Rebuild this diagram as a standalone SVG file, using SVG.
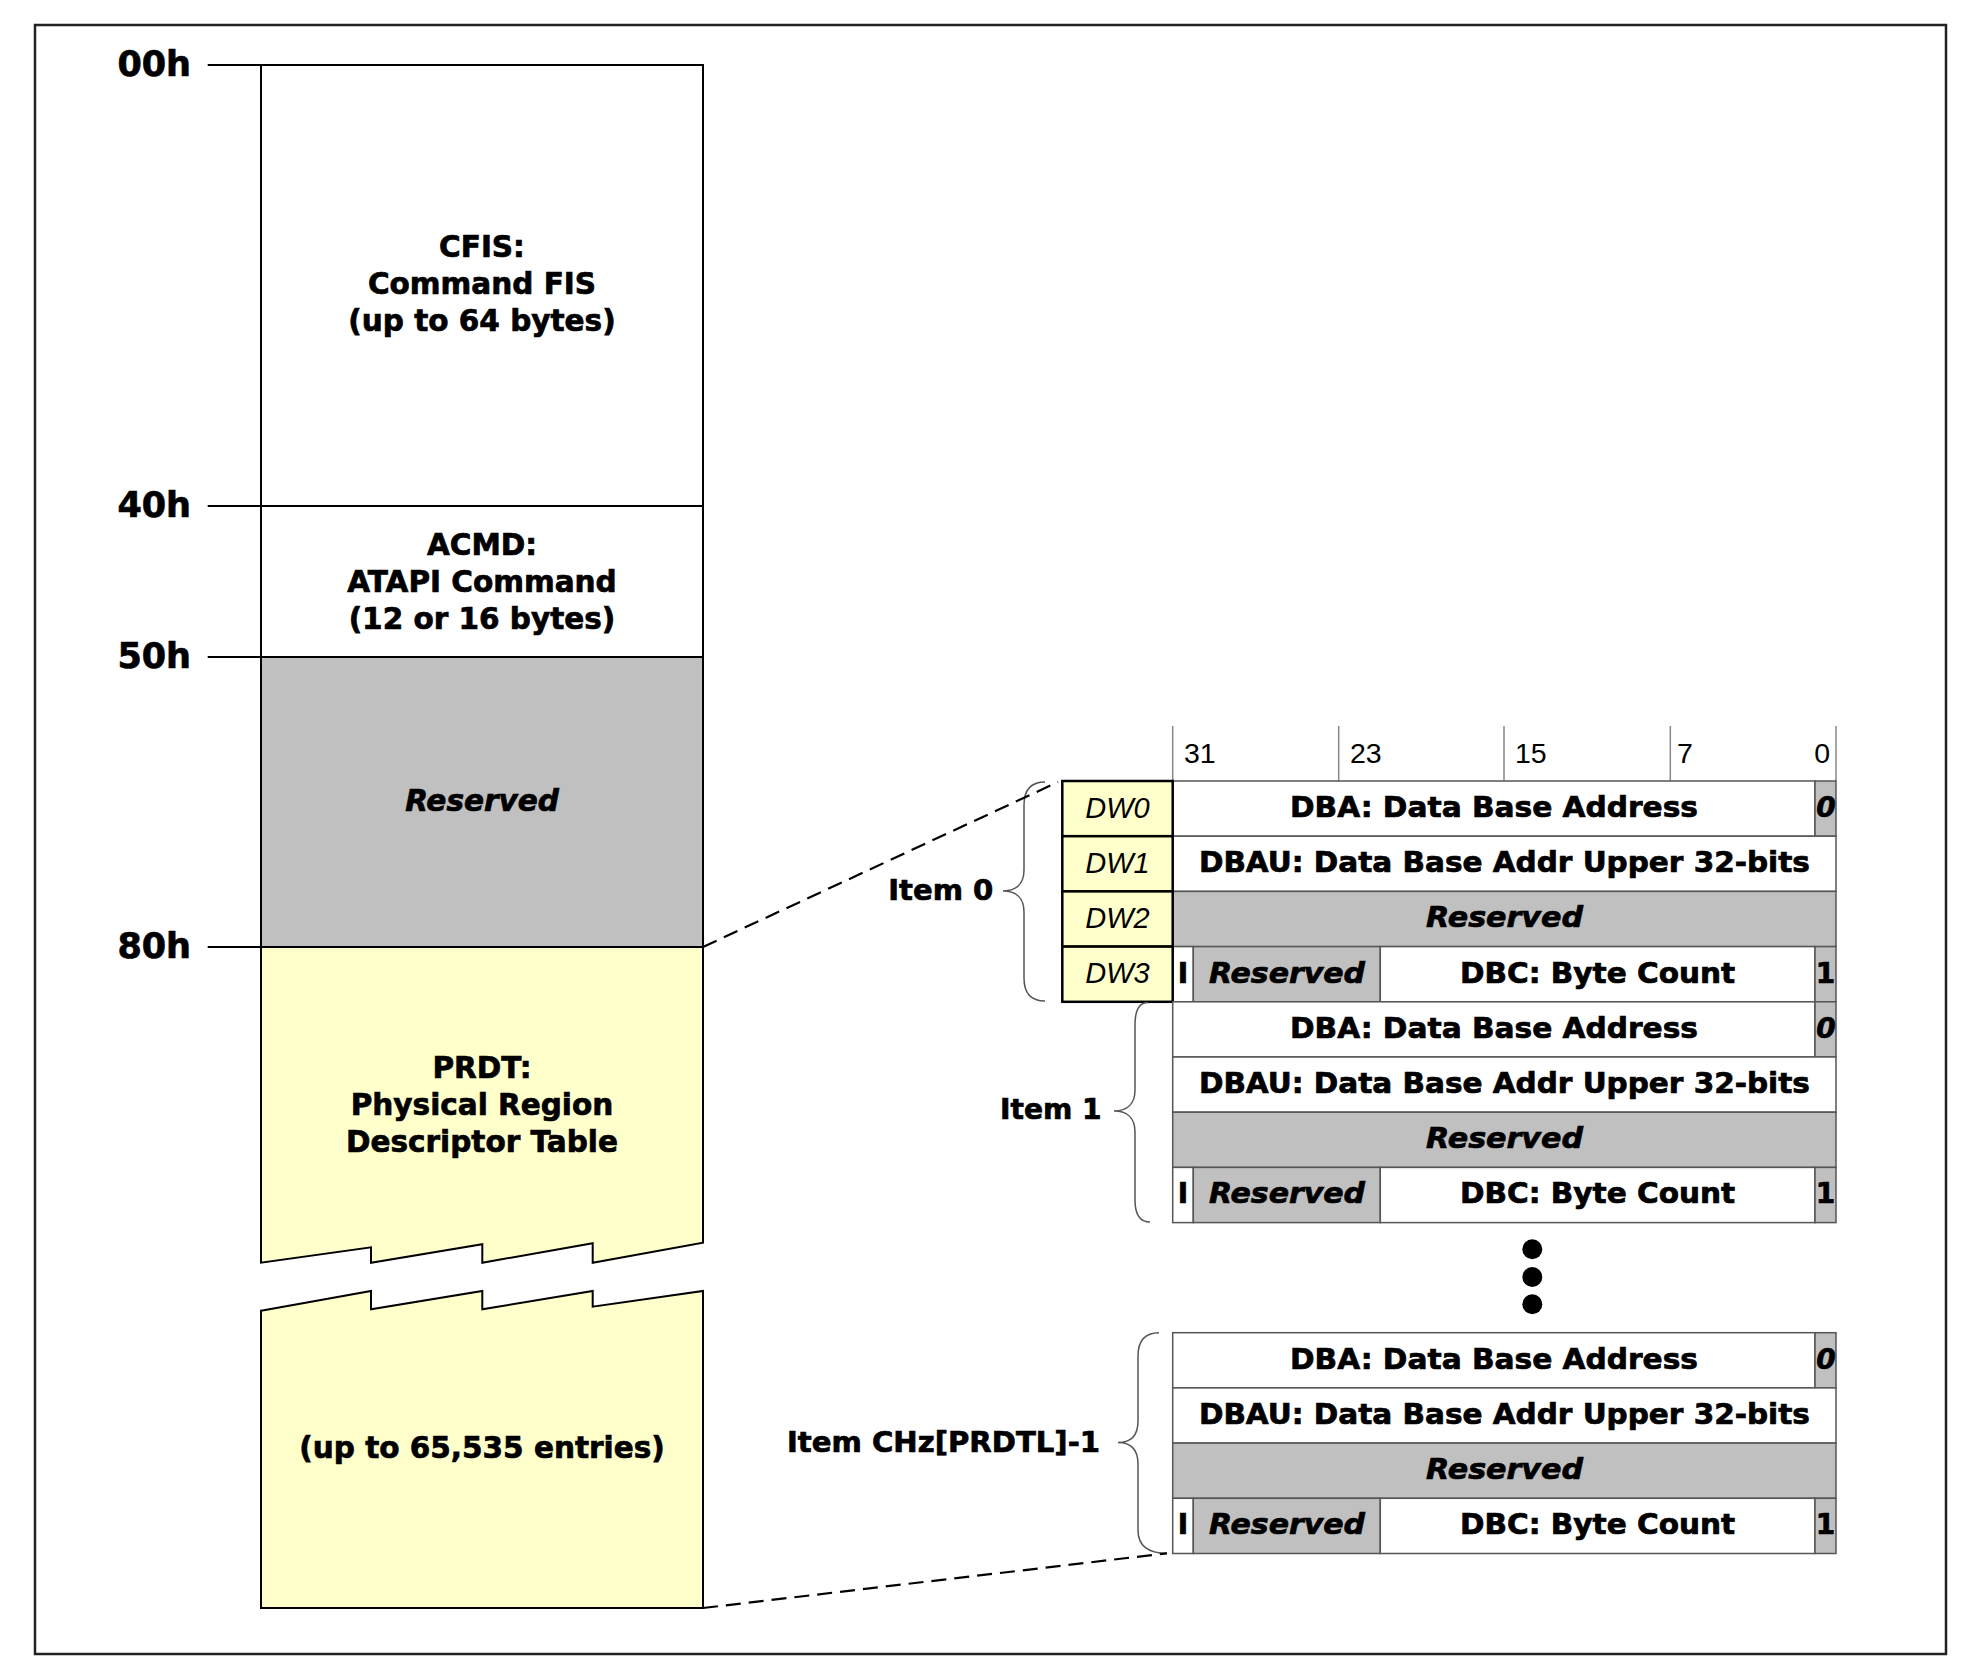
<svg xmlns="http://www.w3.org/2000/svg" width="1986" height="1674" viewBox="0 0 1986 1674">
<style>
.b{font-family:"DejaVu Sans","Liberation Sans",sans-serif;font-weight:bold;fill:#000;stroke:#000;stroke-width:0.7}
.big{font-size:35px;text-anchor:end}
.l{font-size:29.5px;text-anchor:middle}
.t{font-size:28px;text-anchor:middle}
.it{font-size:29px;text-anchor:end}
.bi{font-style:italic}
.num{font-family:"Liberation Sans",Arial,sans-serif;font-size:28.5px;fill:#000}
.dw{font-family:"Liberation Sans",Arial,sans-serif;font-style:italic;font-size:29px;text-anchor:middle;fill:#000}
.w{fill:#fff;stroke:#555;stroke-width:1.5}
.g{fill:#c0c0c0;stroke:#555;stroke-width:1.5}
.dwc{fill:#ffffcc;stroke:#000;stroke-width:2.5}
.mem{stroke:#000;stroke-width:2}
.tick{stroke:#000;stroke-width:2}
.hdr{stroke:#888;stroke-width:1.5}
.dash{stroke:#000;stroke-width:2.2;stroke-dasharray:15 8;fill:none}
.brace{fill:none;stroke:#555;stroke-width:1.5}
</style>
<rect x="0" y="0" width="1986" height="1674" fill="#fff"/>
<rect id="frame" x="35" y="25" width="1911" height="1629" fill="#fff" stroke="#222" stroke-width="2.5"/>

<g id="memory-map">
  <g id="cfis">
    <rect x="261" y="65" width="442" height="441" fill="#fff" class="mem"/>
    <text class="b l" x="482" y="257">CFIS:</text>
    <text class="b l" x="482" y="294">Command FIS</text>
    <text class="b l" x="482" y="331">(up to 64 bytes)</text>
  </g>
  <g id="acmd">
    <rect x="261" y="506" width="442" height="151" fill="#fff" class="mem"/>
    <text class="b l" x="482" y="555">ACMD:</text>
    <text class="b l" x="482" y="592">ATAPI Command</text>
    <text class="b l" x="482" y="629">(12 or 16 bytes)</text>
  </g>
  <g id="reserved">
    <rect x="261" y="657" width="442" height="290" fill="#c0c0c0" class="mem"/>
    <text class="b l bi" x="482" y="811">Reserved</text>
  </g>
  <g id="prdt">
    <path d="M261,947 H703 V1242.7 L592.7,1262.7 V1243.3 L482.3,1262.7 V1244.3 L371,1262.7 V1247.3 L261,1262.7 Z" fill="#ffffcc" class="mem"/>
    <text class="b l" x="482" y="1078">PRDT:</text>
    <text class="b l" x="482" y="1115">Physical Region</text>
    <text class="b l" x="482" y="1152">Descriptor Table</text>
  </g>
  <g id="prdt-end">
    <path d="M261,1310.7 L371,1291 V1309.3 L482.3,1291 V1309.3 L592.7,1291 V1306.7 L703,1291 V1608 H261 Z" fill="#ffffcc" class="mem"/>
    <text class="b l" x="482" y="1458">(up to 65,535 entries)</text>
  </g>
  <g id="offsets">
    <line class="tick" x1="207.7" y1="65" x2="261" y2="65"/>
    <line class="tick" x1="207.7" y1="506" x2="261" y2="506"/>
    <line class="tick" x1="207.7" y1="657" x2="261" y2="657"/>
    <line class="tick" x1="207.7" y1="947" x2="261" y2="947"/>
    <text class="b big" x="191" y="76">00h</text>
    <text class="b big" x="191" y="517">40h</text>
    <text class="b big" x="191" y="668">50h</text>
    <text class="b big" x="191" y="958">80h</text>
  </g>
</g>

<g id="bit-header">
  <line class="hdr" x1="1172.7" y1="726" x2="1172.7" y2="781"/>
  <line class="hdr" x1="1338.7" y1="726" x2="1338.7" y2="781"/>
  <line class="hdr" x1="1504" y1="726" x2="1504" y2="781"/>
  <line class="hdr" x1="1670.3" y1="726" x2="1670.3" y2="781"/>
  <line class="hdr" x1="1836" y1="726" x2="1836" y2="781"/>
  <text class="num" x="1184" y="763">31</text>
  <text class="num" x="1350" y="763">23</text>
  <text class="num" x="1515" y="763">15</text>
  <text class="num" x="1677" y="763">7</text>
  <text class="num" x="1830" y="763" text-anchor="end">0</text>
</g>

<g id="item0">
  <rect class="w" x="1172.7" y="781" width="642.3" height="55.2"/>
  <rect class="g" x="1815" y="781" width="21" height="55.2"/>
  <rect class="w" x="1172.7" y="836.2" width="663.3" height="55.2"/>
  <rect class="g" x="1172.7" y="891.4" width="663.3" height="55.2"/>
  <rect class="w" x="1172.7" y="946.6" width="20.6" height="55.2"/>
  <rect class="g" x="1193.3" y="946.6" width="187" height="55.2"/>
  <rect class="w" x="1380.3" y="946.6" width="434.7" height="55.2"/>
  <rect class="g" x="1815" y="946.6" width="21" height="55.2"/>
  <rect class="dwc" x="1062.3" y="781" width="110.4" height="55.2"/>
  <rect class="dwc" x="1062.3" y="836.2" width="110.4" height="55.2"/>
  <rect class="dwc" x="1062.3" y="891.4" width="110.4" height="55.2"/>
  <rect class="dwc" x="1062.3" y="946.6" width="110.4" height="55.2"/>
  <text class="dw" x="1117.5" y="817.5">DW0</text>
  <text class="dw" x="1117.5" y="872.7">DW1</text>
  <text class="dw" x="1117.5" y="927.9">DW2</text>
  <text class="dw" x="1117.5" y="983.1">DW3</text>
  <text class="b t" x="1494" y="817" textLength="408" lengthAdjust="spacingAndGlyphs">DBA: Data Base Address</text>
  <text class="b t bi" x="1826" y="817">0</text>
  <text class="b t" x="1504.4" y="872.2" textLength="611" lengthAdjust="spacingAndGlyphs">DBAU: Data Base Addr Upper 32-bits</text>
  <text class="b t bi" x="1504.5" y="927.4" textLength="157" lengthAdjust="spacingAndGlyphs">Reserved</text>
  <text class="b t" x="1183" y="982.6">I</text>
  <text class="b t bi" x="1287" y="982.6" textLength="156" lengthAdjust="spacingAndGlyphs">Reserved</text>
  <text class="b t" x="1597.6" y="982.6" textLength="275" lengthAdjust="spacingAndGlyphs">DBC: Byte Count</text>
  <text class="b t" x="1825.5" y="982.6">1</text>
  <path class="brace" d="M1045,782 C1030,782 1024,790 1024,805 L1024,870 C1024,884 1016,891 1003,891 C1016,891 1024,898 1024,912 L1024,978 C1024,993 1030,1001 1045,1001"/>
  <text class="b it" x="993.3" y="900" textLength="105" lengthAdjust="spacingAndGlyphs">Item 0</text>
</g>

<g id="item1">
  <rect class="w" x="1172.7" y="1001.8" width="642.3" height="55.2"/>
  <rect class="g" x="1815" y="1001.8" width="21" height="55.2"/>
  <rect class="w" x="1172.7" y="1057" width="663.3" height="55.2"/>
  <rect class="g" x="1172.7" y="1112.2" width="663.3" height="55.2"/>
  <rect class="w" x="1172.7" y="1167.4" width="20.6" height="55.2"/>
  <rect class="g" x="1193.3" y="1167.4" width="187" height="55.2"/>
  <rect class="w" x="1380.3" y="1167.4" width="434.7" height="55.2"/>
  <rect class="g" x="1815" y="1167.4" width="21" height="55.2"/>
  <text class="b t" x="1494" y="1037.8" textLength="408" lengthAdjust="spacingAndGlyphs">DBA: Data Base Address</text>
  <text class="b t bi" x="1826" y="1037.8">0</text>
  <text class="b t" x="1504.4" y="1093" textLength="611" lengthAdjust="spacingAndGlyphs">DBAU: Data Base Addr Upper 32-bits</text>
  <text class="b t bi" x="1504.5" y="1148.2" textLength="157" lengthAdjust="spacingAndGlyphs">Reserved</text>
  <text class="b t" x="1183" y="1203.4">I</text>
  <text class="b t bi" x="1287" y="1203.4" textLength="156" lengthAdjust="spacingAndGlyphs">Reserved</text>
  <text class="b t" x="1597.6" y="1203.4" textLength="275" lengthAdjust="spacingAndGlyphs">DBC: Byte Count</text>
  <text class="b t" x="1825.5" y="1203.4">1</text>
  <path class="brace" d="M1148,1002.5 C1139,1002.5 1135,1010 1135,1025 L1135,1090 C1135,1104 1127,1111 1114,1111 C1127,1111 1135,1118 1135,1132 L1135,1200 C1135,1215 1140,1222 1150,1222"/>
  <text class="b it" x="1101.7" y="1119.3" textLength="101.7" lengthAdjust="spacingAndGlyphs">Item 1</text>
</g>

<g id="ellipsis">
  <circle cx="1532.3" cy="1249.3" r="10"/>
  <circle cx="1532.3" cy="1277" r="10"/>
  <circle cx="1532.3" cy="1304.3" r="10"/>
</g>

<g id="itemN">
  <rect class="w" x="1172.7" y="1332.7" width="642.3" height="55.2"/>
  <rect class="g" x="1815" y="1332.7" width="21" height="55.2"/>
  <rect class="w" x="1172.7" y="1387.9" width="663.3" height="55.2"/>
  <rect class="g" x="1172.7" y="1443.1" width="663.3" height="55.2"/>
  <rect class="w" x="1172.7" y="1498.3" width="20.6" height="55.2"/>
  <rect class="g" x="1193.3" y="1498.3" width="187" height="55.2"/>
  <rect class="w" x="1380.3" y="1498.3" width="434.7" height="55.2"/>
  <rect class="g" x="1815" y="1498.3" width="21" height="55.2"/>
  <text class="b t" x="1494" y="1368.7" textLength="408" lengthAdjust="spacingAndGlyphs">DBA: Data Base Address</text>
  <text class="b t bi" x="1826" y="1368.7">0</text>
  <text class="b t" x="1504.4" y="1423.9" textLength="611" lengthAdjust="spacingAndGlyphs">DBAU: Data Base Addr Upper 32-bits</text>
  <text class="b t bi" x="1504.5" y="1479.1" textLength="157" lengthAdjust="spacingAndGlyphs">Reserved</text>
  <text class="b t" x="1183" y="1534.3">I</text>
  <text class="b t bi" x="1287" y="1534.3" textLength="156" lengthAdjust="spacingAndGlyphs">Reserved</text>
  <text class="b t" x="1597.6" y="1534.3" textLength="275" lengthAdjust="spacingAndGlyphs">DBC: Byte Count</text>
  <text class="b t" x="1825.5" y="1534.3">1</text>
  <path class="brace" d="M1159,1332.7 C1146,1332.7 1138,1340 1138,1356 L1138,1421 C1138,1435 1131,1442.5 1118,1442.5 C1131,1442.5 1138,1450 1138,1464 L1138,1530 C1138,1546 1148,1553.3 1167,1553.3"/>
  <text class="b it" x="1100" y="1451.7" textLength="313" lengthAdjust="spacingAndGlyphs">Item CHz[PRDTL]-1</text>
</g>

<g id="connectors">
  <line class="dash" x1="703" y1="947" x2="1058" y2="782"/>
  <line class="dash" x1="703" y1="1608" x2="1167" y2="1553.3"/>
</g>
</svg>
